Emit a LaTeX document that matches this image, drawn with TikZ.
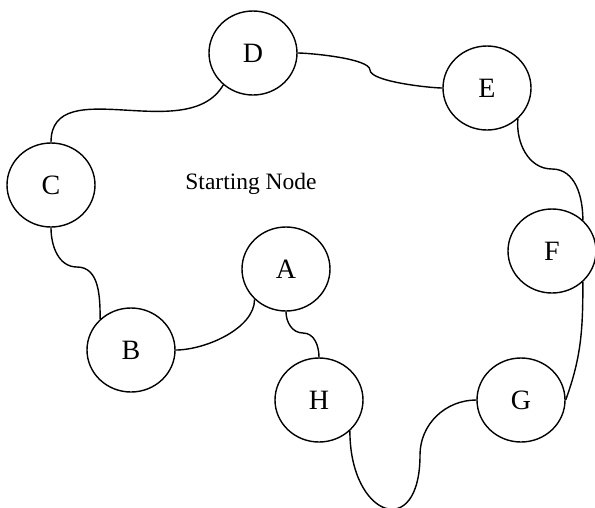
\documentclass[tikz,border=0pt]{standalone}
\usepackage{fontspec}
\setmainfont{Liberation Serif}
\usetikzlibrary{shapes.geometric}
\begin{document}
\begin{tikzpicture}[x=1pt,y=-1pt,
  state/.style={ellipse,draw,line width=1.4pt,minimum width=88pt,minimum height=84pt,
    inner sep=0pt,font=\fontsize{28}{30}\selectfont},
  link/.style={line width=1.4pt}]
  \useasboundingbox (0,0) rectangle (595,507);
  \node[state] (A) at (286,269) {A};
  \node[state] (B) at (131,350) {B};
  \node[state] (C) at (51,185) {C};
  \node[state] (D) at (253,53) {D};
  \node[state] (E) at (487,88) {E};
  \node[state] (F) at (552,251) {F};
  \node[state] (G) at (521,400) {G};
  \node[state] (H) at (319,400) {H};
  \node[font=\fontsize{23.5}{28}\selectfont] (start) at (251,184) {Starting Node};
  % bends of the connectors
  \coordinate (de) at (370,70);
  \coordinate (ef) at (552,169);
  \coordinate (gh) at (420,455);
  \coordinate (ah) at (303,333);
  \coordinate (cb) at (77,267);
  \draw[link] (D.227) to[out=-120,in=90] (C.north);
  \draw[link] (D.east) to[out=0,in=90,looseness=0.4] (de)
    to[out=-90,in=180,looseness=0.4] (E.west);
  \draw[link] (E.-45) to[out=-95,in=180] (ef) to[out=0,in=90] (F.45);
  \draw[link] (F.-45) to[out=-90,in=70] (G.east);
  \draw[link] (G.west) to[out=180,in=90] (gh)
    to[out=-90,in=-90,looseness=3] (H.-45);
  \draw[link] (A.south) to[out=-90,in=180] (ah) to[out=0,in=90] (H.north);
  \draw[link] (A.-136) to[out=-90,in=0,looseness=0.8] (B.east);
  \draw[link] (C.south) to[out=-90,in=180] (cb) to[out=0,in=90] (B.135);
\end{tikzpicture}
\end{document}
